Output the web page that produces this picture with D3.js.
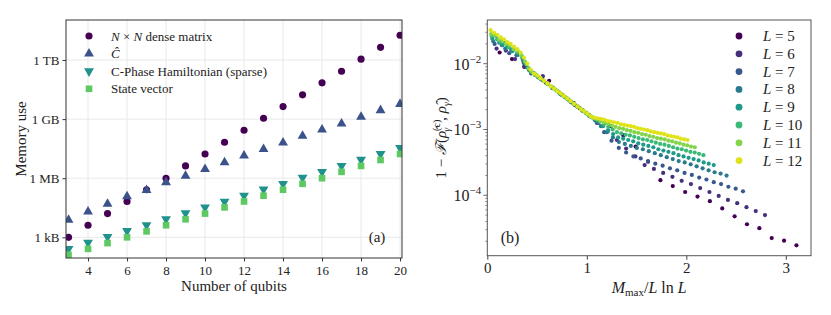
<!DOCTYPE html>
<html>
<head>
<meta charset="utf-8">
<script src="https://d3js.org/d3.v7.min.js"></script>
<style>
  body { margin: 0; background: #fff; }
  svg text { font-family: "Liberation Serif", "DejaVu Serif", serif; fill: #222; }
</style>
</head>
<body>
<svg id="chart" width="831" height="315"></svg>
<script>
// ---------- panel (a): memory use vs number of qubits (bytes) ----------
var qubits = [3, 4, 5, 6, 7, 8, 9, 10, 11, 12, 13, 14, 15, 16, 17, 18, 19, 20];
var denseMatrix = [1.0e3, 4.1e3, 1.6e4, 6.6e4, 2.6e5, 1.0e6, 4.2e6, 1.7e7, 6.7e7, 2.7e8,
  1.1e9, 4.3e9, 1.7e10, 6.9e10, 2.7e11, 1.1e12, 4.4e12, 1.8e13];
var cHat = [7.6e3, 2.0e4, 4.9e4, 1.2e5, 2.5e5, 6.2e5, 1.3e6, 2.9e6, 6.3e6, 1.4e7,
  3.0e7, 6.3e7, 1.4e8, 2.9e8, 5.9e8, 1.3e9, 2.8e9, 5.8e9];
var cphaseSparse = [2.6e2, 5.4e2, 1.07e3, 2.1e3, 4.2e3, 8.5e3, 1.7e4, 3.3e4, 6.5e4, 1.3e5,
  2.7e5, 5.2e5, 1.07e6, 2.1e6, 4.3e6, 8.7e6, 1.7e7, 3.5e7];
var stateVector = [1.3e2, 2.6e2, 5.1e2, 1.0e3, 2.0e3, 4.1e3, 8.2e3, 1.6e4, 3.3e4, 6.6e4,
  1.3e5, 2.6e5, 5.2e5, 1.0e6, 2.1e6, 4.2e6, 8.4e6, 1.7e7];
var memTicks = [1e3, 1e6, 1e9, 1e12];
var memTickLabels = ["1 kB", "1 MB", "1 GB", "1 TB"];
var qubitTicks = [4, 6, 8, 10, 12, 14, 16, 18, 20];

// ---------- panel (b): log10(1 - F) for M_max = 1 .. 5L ----------
var Ls = [5, 6, 7, 8, 9, 10, 11, 12];
var infid_L5 = [-1.83,-1.93,-2.05,-2.18,-2.26,-2.47,-2.60,-2.75,-2.85,-2.95,-3.09,-3.26,-3.49,-3.77,-3.86,
  -3.95,-4.02,-4.09,-4.20,-4.32,-4.44,-4.50,-4.65,-4.69,-4.76];
var infid_L6 = [-1.77,-1.80,-1.93,-2.04,-2.14,-2.19,-2.37,-2.47,-2.58,-2.68,-2.78,-2.90,-3.03,-3.16,-3.29,
  -3.41,-3.54,-3.60,-3.66,-3.72,-3.78,-3.83,-3.89,-3.95,-4.01,-4.07,-4.12,-4.18,-4.24,-4.30];
var infid_L7 = [-1.70,-1.72,-1.84,-1.87,-1.99,-2.15,-2.21,-2.29,-2.37,-2.46,-2.54,-2.63,-2.71,-2.79,-2.90,
  -3.04,-3.17,-3.28,-3.35,-3.41,-3.44,-3.48,-3.52,-3.55,-3.59,-3.62,-3.66,-3.69,-3.73,-3.76,
  -3.80,-3.83,-3.87,-3.90,-3.94];
var infid_L8 = [-1.66,-1.68,-1.77,-1.79,-1.87,-1.96,-2.10,-2.17,-2.24,-2.30,-2.37,-2.44,-2.51,-2.58,-2.65,
  -2.72,-2.79,-2.86,-2.95,-3.04,-3.12,-3.19,-3.22,-3.25,-3.28,-3.30,-3.33,-3.36,-3.39,-3.42,
  -3.45,-3.48,-3.50,-3.53,-3.56,-3.59,-3.62,-3.65,-3.67,-3.70];
var infid_L9 = [-1.62,-1.63,-1.72,-1.74,-1.81,-1.83,-1.93,-2.06,-2.14,-2.20,-2.25,-2.31,-2.37,-2.42,-2.48,
  -2.54,-2.60,-2.66,-2.71,-2.77,-2.82,-2.88,-2.95,-3.01,-3.07,-3.12,-3.14,-3.16,-3.18,-3.21,
  -3.23,-3.25,-3.27,-3.30,-3.32,-3.34,-3.36,-3.39,-3.41,-3.43,-3.45,-3.47,-3.50,-3.52,-3.54];
var infid_L10 = [-1.58,-1.58,-1.67,-1.68,-1.75,-1.77,-1.83,-1.89,-2.01,-2.12,-2.16,-2.21,-2.26,-2.31,-2.36,
  -2.41,-2.46,-2.51,-2.56,-2.61,-2.66,-2.71,-2.76,-2.81,-2.84,-2.88,-2.92,-2.96,-3.00,-3.04,
  -3.06,-3.08,-3.09,-3.11,-3.13,-3.15,-3.16,-3.18,-3.20,-3.22,-3.23,-3.25,-3.27,-3.29,-3.30,
  -3.32,-3.34,-3.35,-3.37,-3.39];
var infid_L11 = [-1.55,-1.56,-1.63,-1.65,-1.70,-1.72,-1.78,-1.80,-1.87,-1.97,-2.07,-2.13,-2.17,-2.22,-2.26,
  -2.30,-2.35,-2.39,-2.43,-2.48,-2.52,-2.56,-2.61,-2.65,-2.70,-2.74,-2.78,-2.82,-2.84,-2.87,
  -2.89,-2.91,-2.94,-2.96,-2.98,-2.99,-3.01,-3.02,-3.04,-3.05,-3.07,-3.08,-3.10,-3.11,-3.13,
  -3.14,-3.15,-3.17,-3.18,-3.20,-3.21,-3.23,-3.24,-3.26,-3.27];
var infid_L12 = [-1.49,-1.53,-1.56,-1.60,-1.63,-1.67,-1.70,-1.74,-1.78,-1.83,-1.91,-2.00,-2.09,-2.15,-2.18,
  -2.22,-2.26,-2.30,-2.34,-2.38,-2.42,-2.45,-2.49,-2.53,-2.57,-2.61,-2.65,-2.69,-2.72,-2.76,
  -2.80,-2.82,-2.83,-2.84,-2.85,-2.87,-2.88,-2.89,-2.90,-2.92,-2.93,-2.94,-2.95,-2.96,-2.98,
  -2.99,-3.00,-3.01,-3.03,-3.04,-3.05,-3.06,-3.07,-3.09,-3.10,-3.11,-3.12,-3.14,-3.15,-3.16];
var infidByL = [infid_L5, infid_L6, infid_L7, infid_L8, infid_L9, infid_L10, infid_L11, infid_L12];
var fidTicks = [1e-2, 1e-3, 1e-4];
var fidTickExp = ["\u22122", "\u22123", "\u22124"];
var mTicks = [0, 1, 2, 3];

var svg = d3.select("#chart");

// ================= panel (a) =================
var A = { left: 66, right: 402, top: 20, bottom: 258 };
var xA = d3.scaleLinear().domain([2.87, 20.1]).range([A.left, A.right]);
var yA = d3.scaleLog().domain([Math.pow(10, 1.95), Math.pow(10, 14.03)]).range([A.bottom, A.top]);

var defs = svg.append("defs");
defs.append("clipPath").attr("id", "clipA").append("rect")
  .attr("x", A.left).attr("y", A.top).attr("width", A.right - A.left).attr("height", A.bottom - A.top);

var gA = svg.append("g");
// grid
gA.selectAll("line.vg").data(qubitTicks).enter().append("line")
  .attr("x1", d => xA(d)).attr("x2", d => xA(d)).attr("y1", A.top).attr("y2", A.bottom)
  .attr("stroke", "#e8e8e8").attr("stroke-width", 1);
gA.selectAll("line.hg").data(memTicks).enter().append("line")
  .attr("y1", d => yA(d)).attr("y2", d => yA(d)).attr("x1", A.left).attr("x2", A.right)
  .attr("stroke", "#e8e8e8").attr("stroke-width", 1);

var seriesA = [
  { name: "dense", vals: denseMatrix, color: "#440154", sym: d3.symbolCircle, size: 40, rot: 0 },
  { name: "chat", vals: cHat, color: "#3b528b", sym: d3.symbolTriangle, size: 42, rot: 0 },
  { name: "cphase", vals: cphaseSparse, color: "#21918c", sym: d3.symbolTriangle, size: 42, rot: 180 },
  { name: "state", vals: stateVector, color: "#5ec962", sym: d3.symbolSquare, size: 44, rot: 0 }
];

var pts = gA.append("g").attr("clip-path", "url(#clipA)");
seriesA.forEach(function (s) {
  pts.selectAll("path." + s.name).data(s.vals).enter().append("path")
    .attr("class", s.name)
    .attr("d", d3.symbol().type(s.sym).size(s.size))
    .attr("transform", (d, i) => "translate(" + xA(qubits[i]) + "," + yA(d) + ") rotate(" + s.rot + ")")
    .attr("fill", s.color);
});

// frame
gA.append("rect").attr("x", A.left).attr("y", A.top)
  .attr("width", A.right - A.left).attr("height", A.bottom - A.top)
  .attr("fill", "none").attr("stroke", "#333").attr("stroke-width", 1);

// axes
var axA_x = gA.append("g").attr("transform", "translate(0," + A.bottom + ")")
  .call(d3.axisBottom(xA).tickValues(qubitTicks).tickSize(3.5).tickPadding(4));
var axA_y = gA.append("g").attr("transform", "translate(" + A.left + ",0)")
  .call(d3.axisLeft(yA).tickValues(memTicks).tickFormat((d, i) => memTickLabels[i]).tickSize(3.5).tickPadding(3));
[axA_x, axA_y].forEach(function (ax) {
  ax.select(".domain").remove();
  ax.selectAll("line").attr("stroke", "#333");
  ax.selectAll("text").style("font-size", "13px").attr("fill", "#333");
});

gA.append("text").attr("x", (A.left + A.right) / 2).attr("y", 291)
  .attr("text-anchor", "middle").style("font-size", "15px").text("Number of qubits");
gA.append("text").attr("transform", "translate(26," + (A.top + A.bottom) / 2 + ") rotate(-90)")
  .attr("text-anchor", "middle").style("font-size", "15px").text("Memory use");
gA.append("text").attr("x", 377).attr("y", 242).attr("text-anchor", "middle")
  .style("font-size", "15px").text("(a)");

// legend (a)
var legA = [
  { s: seriesA[0], label: function (t) { t.append("tspan").style("font-style", "italic").text("N"); t.append("tspan").text(" \u00d7 "); t.append("tspan").style("font-style", "italic").text("N"); t.append("tspan").text(" dense matrix"); } },
  { s: seriesA[1], label: function (t) { t.append("tspan").style("font-style", "italic").text("\u0108"); } },
  { s: seriesA[2], label: function (t) { t.text("C-Phase Hamiltonian (sparse)"); } },
  { s: seriesA[3], label: function (t) { t.text("State vector"); } }
];
legA.forEach(function (l, i) {
  var y = 36 + i * 17.6;
  gA.append("path").attr("d", d3.symbol().type(l.s.sym).size(l.s.size))
    .attr("transform", "translate(89," + y + ") rotate(" + l.s.rot + ")").attr("fill", l.s.color);
  var t = gA.append("text").attr("x", 111).attr("y", y + 4.5).style("font-size", "13px");
  l.label(t);
});

// ================= panel (b) =================
var B = { left: 487.3, right: 811, top: 20, bottom: 255.7 };
var xB = d3.scaleLinear().domain([0, 3.253]).range([B.left, B.right]);
var yB = d3.scaleLog().domain([Math.pow(10, -4.918), Math.pow(10, -1.336)]).range([B.bottom, B.top]);
var colorB = d3.scaleOrdinal().domain(Ls).range(Ls.map((L, i) => d3.interpolateViridis(i / 7 * 0.95)));

defs.append("clipPath").attr("id", "clipB").append("rect")
  .attr("x", B.left).attr("y", B.top).attr("width", B.right - B.left).attr("height", B.bottom - B.top);

var gB = svg.append("g");
var dotsB = gB.append("g").attr("clip-path", "url(#clipB)");
Ls.forEach(function (L, k) {
  var LlnL = L * Math.log(L);
  // x coordinate is M_max / (L ln L) with M_max = 1, 2, ..., 5L
  dotsB.selectAll("circle.L" + L).data(infidByL[k]).enter().append("circle")
    .attr("class", "L" + L)
    .attr("cx", (d, i) => xB((i + 1) / LlnL))
    .attr("cy", d => yB(Math.pow(10, d)))
    .attr("r", 2.1)
    .attr("fill", colorB(L));
});

gB.append("rect").attr("x", B.left).attr("y", B.top)
  .attr("width", B.right - B.left).attr("height", B.bottom - B.top)
  .attr("fill", "none").attr("stroke", "#555").attr("stroke-width", 1);

var axB_x = gB.append("g").attr("transform", "translate(0," + B.bottom + ")")
  .call(d3.axisBottom(xB).tickValues(mTicks).tickFormat(d3.format("d")).tickSize(4).tickPadding(3));
axB_x.select(".domain").remove();
axB_x.selectAll("line").attr("stroke", "#444");
axB_x.selectAll("text").style("font-size", "15px").attr("fill", "#333");

// y axis: major and minor ticks
var minorB = [];
for (var e = -5; e <= -2; e++) {
  for (var m = 2; m <= 9; m++) {
    var v = m * Math.pow(10, e);
    if (v >= yB.domain()[0] && v <= yB.domain()[1]) minorB.push(v);
  }
}
gB.selectAll("line.minor").data(minorB).enter().append("line")
  .attr("x1", B.left - 2).attr("x2", B.left).attr("y1", d => yB(d)).attr("y2", d => yB(d))
  .attr("stroke", "#444").attr("stroke-width", 0.6);
gB.selectAll("line.major").data(fidTicks).enter().append("line")
  .attr("x1", B.left - 4).attr("x2", B.left).attr("y1", d => yB(d)).attr("y2", d => yB(d))
  .attr("stroke", "#444").attr("stroke-width", 0.8);
fidTicks.forEach(function (v, i) {
  var t = gB.append("text").attr("x", B.left - 6).attr("y", yB(v) + 6)
    .attr("text-anchor", "end").style("font-size", "16px").attr("fill", "#333");
  t.append("tspan").text("10");
  t.append("tspan").attr("dy", -7).style("font-size", "11px").text(fidTickExp[i]);
});

// x label
var xl = gB.append("text").attr("x", (B.left + B.right) / 2).attr("y", 293)
  .attr("text-anchor", "middle").style("font-size", "16px");
xl.append("tspan").style("font-style", "italic").text("M");
xl.append("tspan").attr("dy", 3).style("font-size", "11px").text("max");
xl.append("tspan").attr("dy", -3).text("/");
xl.append("tspan").style("font-style", "italic").text("L");
xl.append("tspan").text(" ln ");
xl.append("tspan").style("font-style", "italic").text("L");

// y label
var yl = gB.append("text").attr("transform", "translate(446," + (B.top + B.bottom) / 2 + ") rotate(-90)")
  .attr("text-anchor", "middle").style("font-size", "15px");
yl.append("tspan").text("1 \u2212 ");
yl.append("tspan").style("font-style", "italic").text("\u2131");
yl.append("tspan").text("(");
yl.append("tspan").style("font-style", "italic").text("\u03c1\u0302");
yl.append("tspan").attr("dy", -6).style("font-size", "10px").text("(c)");
yl.append("tspan").attr("dx", -12).attr("dy", 10).style("font-size", "10px").style("font-style", "italic").text("\u03b3");
yl.append("tspan").attr("dx", 7).attr("dy", -4).text(", ");
yl.append("tspan").style("font-style", "italic").text("\u03c1\u0302");
yl.append("tspan").attr("dy", 4).style("font-size", "10px").style("font-style", "italic").text("\u03b3");
yl.append("tspan").attr("dy", -4).text(")");

gB.append("text").attr("x", 510).attr("y", 243).attr("text-anchor", "middle")
  .style("font-size", "16px").text("(b)");

// legend (b)
Ls.forEach(function (L, i) {
  var y = 36 + i * 17.8;
  gB.append("circle").attr("cx", 739).attr("cy", y).attr("r", 3.4).attr("fill", colorB(L));
  var t = gB.append("text").attr("x", 763).attr("y", y + 5).style("font-size", "15px");
  t.append("tspan").style("font-style", "italic").text("L");
  t.append("tspan").text(" = " + L);
});
</script>
</body>
</html>
